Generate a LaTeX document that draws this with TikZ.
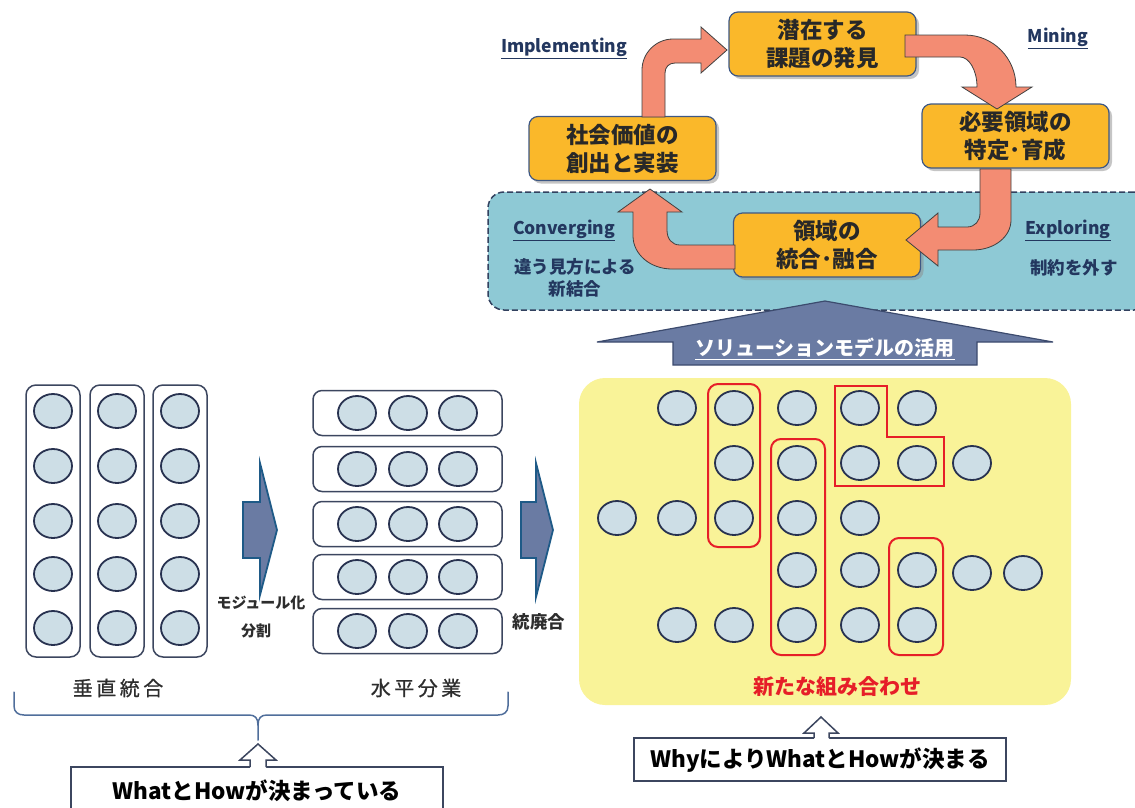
\documentclass[tikz,border=0pt]{standalone}
\usepackage{fontspec}
\setmainfont{Noto Sans CJK JP}
\newfontfamily\jpmedium[FakeBold=0.8]{Noto Sans CJK JP}
\usetikzlibrary{shapes.geometric,shadows}

\definecolor{boxorange}{RGB}{250,184,42}
\definecolor{boxedge}{RGB}{62,88,132}
\definecolor{boxtext}{RGB}{40,40,40}
\definecolor{salmon}{RGB}{243,140,115}
\definecolor{regionteal}{RGB}{142,201,213}
\definecolor{regionedge}{RGB}{50,65,95}
\definecolor{labelnavy}{RGB}{35,55,95}
\definecolor{arrowslate}{RGB}{106,123,163}
\definecolor{slateedge}{RGB}{30,90,135}
\definecolor{bigedge}{RGB}{60,75,110}
\definecolor{dotfill}{RGB}{205,222,230}
\definecolor{dotedge}{RGB}{40,50,80}
\definecolor{padyellow}{RGB}{249,243,152}
\definecolor{groupred}{RGB}{230,30,40}
\definecolor{bracecol}{RGB}{80,110,155}
\definecolor{frameedge}{RGB}{60,70,95}
\definecolor{darktext}{RGB}{45,45,45}

\begin{document}
\begin{tikzpicture}[x=1pt,y=-1pt,
  cyclebox/.style={draw=boxedge, line width=1.2pt, fill=boxorange,
    rounded corners=9pt, minimum width=187pt, minimum height=64pt,
    inner sep=0pt, align=center, text=boxtext,
    font=\fontsize{22.5}{28}\selectfont\bfseries,
    drop shadow={shadow xshift=3pt, shadow yshift=-3pt, fill=black!45, opacity=0.5}},
  cyclearrow/.style={fill=salmon, draw=black!75, line width=0.8pt, line join=miter},
  cyclelabel/.style={text=labelnavy, font=\fontsize{17.5}{20}\selectfont\bfseries, inner sep=0pt},
  notetext/.style={text=labelnavy, font=\fontsize{17.5}{22}\selectfont\bfseries, inner sep=0pt, align=center},
  dot/.style={ellipse, draw=dotedge, line width=1.8pt, fill=dotfill,
    minimum width=38pt, minimum height=34pt, inner sep=0pt},
  colbox/.style={draw=frameedge, line width=1.5pt, fill=white, rounded corners=10pt,
    minimum width=54pt, minimum height=272pt, inner sep=0pt},
  rowbox/.style={draw=frameedge, line width=1.5pt, fill=white, rounded corners=9pt,
    minimum width=189pt, minimum height=45pt, inner sep=0pt},
  blockarrow/.style={fill=arrowslate, draw=slateedge, line width=1.8pt, line join=miter},
  grouping/.style={draw=groupred, line width=2pt},
  smalltext/.style={text=darktext, font=\fontsize{15}{18}\selectfont\bfseries, inner sep=0pt},
  captiontext/.style={text=darktext, font=\jpmedium\fontsize{20}{22}\selectfont, inner sep=0pt},
  framebox/.style={draw=frameedge, line width=1.5pt, fill=white, inner sep=0pt},
  frametext/.style={text=black, font=\fontsize{22.5}{26}\selectfont\bfseries, inner sep=0pt},
  hollowarrow/.style={draw=frameedge, line width=1.5pt, line join=miter}
]
\useasboundingbox (0,0) rectangle (1135,807);

% ---------- exploring / converging region ----------
\node[draw=regionedge, line width=1.5pt, dash pattern=on 6pt off 3pt,
      fill=regionteal, rounded corners=16pt, minimum width=662pt,
      minimum height=118pt, inner sep=0pt] (region) at (819,251) {};

% ---------- cycle boxes ----------
\node[cyclebox] (find)    at (822.5,44)  {潜在する\\課題の発見};
\node[cyclebox] (grow)    at (1015.5,136) {必要領域の\\特定･育成};
\node[cyclebox] (merge)   at (827,245)   {領域の\\統合･融合};
\node[cyclebox] (deliver) at (622.5,148.5) {社会価値の\\創出と実装};

% ---------- cycle arrows ----------
% deliver -> find
\draw[cyclearrow] (642,117) -- (642,70) .. controls (642,53) and (656,39) .. (673,39)
  -- (701,39) -- (701,27) -- (727,50) -- (701,73) -- (701,63) -- (675,63)
  .. controls (669,63) and (665,67) .. (665,73) -- (665,117) -- cycle;
% find -> grow
\draw[cyclearrow] (905,35) -- (965,35) .. controls (993,35) and (1016,58) .. (1016,87)
  -- (1032,87) -- (997,109) -- (962,87) -- (977,87)
  .. controls (977,70) and (969,57) .. (960,57) -- (905,57) -- cycle;
% grow -> merge
\draw[cyclearrow] (980,169) -- (980,213) .. controls (980,221) and (975,227) .. (967,227)
  -- (938,227) -- (938,213) -- (906,240) -- (938,266) -- (938,250) -- (973,250)
  .. controls (994,250) and (1011,237) .. (1011,220) -- (1011,169) -- cycle;
% merge -> deliver
\draw[cyclearrow] (735,245) -- (680,245) .. controls (672,245) and (667,239) .. (667,230)
  -- (667,212) -- (682,212) -- (650,189) -- (618,212) -- (633,212) -- (633,236)
  .. controls (633,254) and (650,269) .. (672,269) -- (735,269) -- cycle;

% ---------- cycle labels ----------
\node[cyclelabel] (implab) at (564,48)  {\underline{Implementing}};
\node[cyclelabel] (minlab) at (1058,38) {\underline{Mining}};
\node[cyclelabel] (conlab) at (564,230) {\underline{Converging}};
\node[cyclelabel] (explab) at (1068,230) {\underline{Exploring}};
\node[notetext] (connote) at (575,278) {違う見方による\\新結合};
\node[notetext] (expnote) at (1074,268) {制約を外す};

% ---------- solution model arrow ----------
\draw[fill=arrowslate, draw=bigedge, line width=1.2pt, line join=miter]
  (825,301) -- (1053,342) -- (977,342) -- (977,365) -- (673,365) -- (673,342)
  -- (597,342) -- cycle;
\node[text=white, font=\fontsize{20}{24}\selectfont\bfseries, inner sep=0pt]
  (usage) at (825,349) {\underline{ソリューションモデルの活用}};

% ---------- vertical integration ----------
\foreach \c/\x in {1/53,2/117,3/180} {
  \node[colbox] (col\c) at (\x,521) {};
  \foreach \r/\y in {1/411,2/466,3/521,4/574,5/628}
    \node[dot] (v-\c-\r) at (\x,\y) {};
}
\node[captiontext] (vcap) at (118,688) {垂\kern3.5pt 直\kern3.5pt 統\kern3.5pt 合};

% ---------- horizontal division ----------
\foreach \r/\y in {1/413,2/469,3/524,4/577,5/631} {
  \node[rowbox] (row\r) at (407.5,\y) {};
  \foreach \c/\x in {1/357,2/408,3/458}
    \node[dot] (h-\r-\c) at (\x,\y) {};
}
\node[captiontext] (hcap) at (416,688) {水\kern3.5pt 平\kern3.5pt 分\kern3.5pt 業};

% ---------- block arrows between stages ----------
\draw[blockarrow] (243,502) -- (260,502) -- (260,463) -- (277,530) -- (260,595)
  -- (260,558) -- (243,558) -- cycle;
\node[smalltext] (modlab) at (261,603) {モジュール化};
\node[smalltext] (divlab) at (256,631) {分割};

\draw[blockarrow] (521,502) -- (536,502) -- (536,463) -- (553,530) -- (536,597)
  -- (536,558) -- (521,558) -- cycle;
\node[smalltext, font=\fontsize{17.5}{20}\selectfont\bfseries] (reorg) at (539,622) {統廃合};

% ---------- brace and fixed what/how ----------
\draw[bracecol, line width=1.5pt, line cap=round]
  (14,692) -- (14,706) .. controls (14,712) and (18,715) .. (24,715) -- (249,715)
  .. controls (255,715) and (258,718) .. (258,725) -- (258,740);
\draw[bracecol, line width=1.5pt, line cap=round]
  (508,692) -- (508,706) .. controls (508,712) and (504,715) .. (498,715) -- (267,715)
  .. controls (261,715) and (258,718) .. (258,725);

\node[framebox, minimum width=372pt, minimum height=50pt] (fixedbox) at (257,792) {};
\fill[white] (250,745) -- (240,760) -- (250,760) -- (250,768) -- (266,768) -- (266,760) -- (276,760) -- cycle;
\draw[hollowarrow] (250,767) -- (250,760) -- (240,760) -- (258,744) -- (276,760) -- (266,760) -- (266,767);
\node[frametext] (fixedtxt) at (257,791) {WhatとHowが決まっている};

% ---------- new combinations ----------
\node[fill=padyellow, rounded corners=26pt, minimum width=492pt, minimum height=327pt,
      inner sep=0pt] (pad) at (825,541.5) {};

\foreach \n/\x/\y in {
  a1/677/408, a2/734/408, a3/797/408, a4/860/408, a5/917/408,
  b1/734/463, b2/797/463, b3/860/463, b4/917/463, b5/972/463,
  c1/617/518, c2/677/518, c3/734/518, c4/797/518, c5/860/518,
  d1/797/570, d2/860/570, d3/917/570, d4/972/573, d5/1023/573,
  e1/677/625, e2/734/625, e3/797/625, e4/860/625, e5/917/625}
  \node[dot] (n-\n) at (\x,\y) {};

\draw[grouping, rounded corners=10pt] (708,384) rectangle (760,547);
\draw[grouping, rounded corners=10pt] (771,439) rectangle (825,655);
\draw[grouping] (835,386) -- (887,386) -- (887,437) -- (944,437) -- (944,486) -- (835,486) -- cycle;
\draw[grouping, rounded corners=10pt] (889,538) rectangle (943,655);

\node[text=groupred, font=\fontsize{21}{24}\selectfont\bfseries, inner sep=0pt]
  (newcomb) at (837,687) {新たな組み合わせ};

% ---------- why decides what/how ----------
\node[framebox, minimum width=372pt, minimum height=43pt] (whybox) at (820,759.5) {};
\fill[white] (814,718) -- (804,733) -- (814,733) -- (814,739) -- (829,739) -- (829,733) -- (838,733) -- cycle;
\draw[hollowarrow] (814,738) -- (814,733) -- (804,733) -- (821,717) -- (838,733) -- (829,733) -- (829,738);
\node[frametext] (whytxt) at (820,760) {WhyによりWhatとHowが決まる};

\end{tikzpicture}
\end{document}
